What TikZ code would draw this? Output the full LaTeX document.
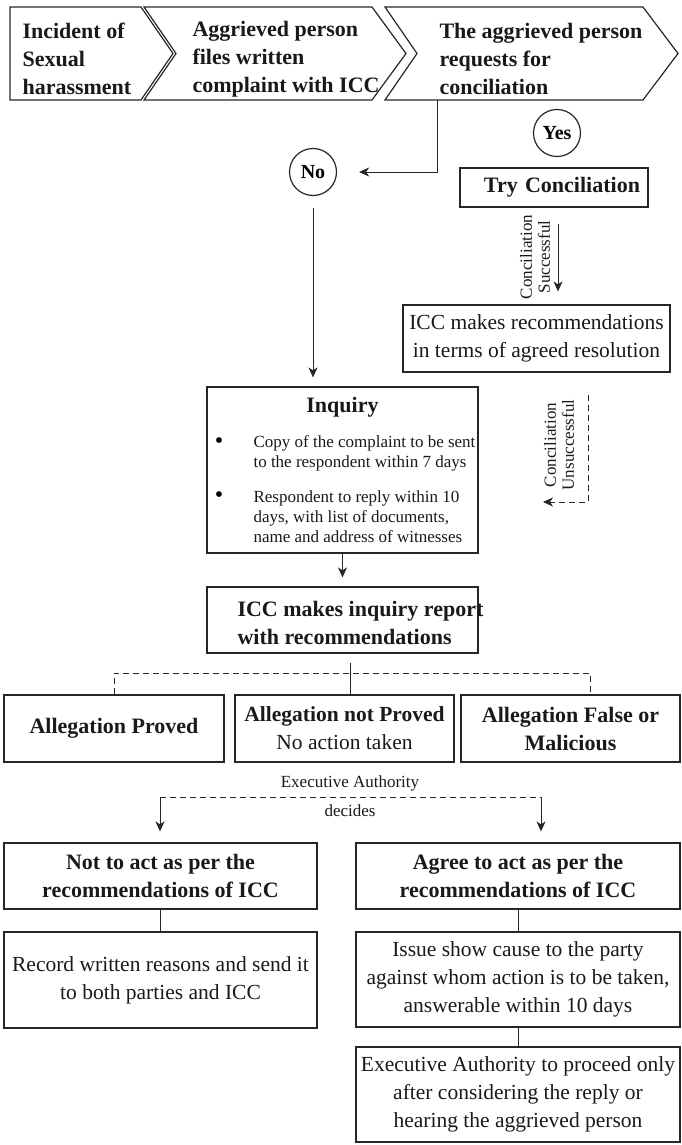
\documentclass[tikz,border=0pt]{standalone}
\usepackage{fontspec}
\setmainfont{Liberation Serif}
\usetikzlibrary{positioning, arrows.meta}

\begin{document}
\begin{tikzpicture}[x=1pt, y=-1pt,
  box/.style={draw=black!85, line width=1.2pt, rectangle, inner sep=0},
  chev/.style={draw=black!85, line width=1.2pt, line join=miter},
  ring/.style={draw=black!85, line width=1.2pt, circle, minimum size=47, inner sep=0, font=\fontsize{20}{24}\selectfont\bfseries},
  head/.style={font=\fontsize{22}{28}\selectfont\bfseries, text=black!90},
  body/.style={font=\fontsize{21.5}{28}\selectfont, text=black!90},
  small/.style={font=\fontsize{17}{20}\selectfont, text=black!90},
  tag/.style={font=\fontsize{17}{18}\selectfont, text=black!90},
  link/.style={draw=black!85, line width=0.9pt},
  arr/.style={link, -{Stealth[length=10pt,width=9pt,inset=3pt]}},
  dashlink/.style={link, dash pattern=on 6pt off 4pt},
  ]

  \useasboundingbox (0,0) rectangle (681,1145);

  % Top row of chevrons
  \draw[chev] (10,7) -- (141,7) -- (173,53.5) -- (141,100) -- (10,100) -- cycle;
  \draw[chev] (144,7) -- (372,7) -- (406,53.5) -- (372,100) -- (144,100) -- (176,53.5) -- cycle;
  \draw[chev] (385,7) -- (643,7) -- (678,53.5) -- (643,100) -- (385,100) -- (417,53.5) -- cycle;
  \node[head, align=left, anchor=west] (incident) at (19,59) {Incident of\\Sexual\\harassment};
  \node[head, align=left, anchor=west] (files) at (189,59) {Aggrieved person\\files written\\complaint with ICC};
  \node[head, align=left, anchor=west] (request) at (436,59) {The aggrieved person\\requests for\\conciliation};
  \coordinate (reqfoot) at (437,100);

  % Decision
  \node[ring] (no) at (313,172) {No};
  \node[ring] (yes) at (557,133) {Yes};
  \draw[arr, shorten >=22pt] (reqfoot) |- (no);

  % Conciliation branch
  \node[box, head, minimum width=188, minimum height=39, text width=172, align=right] (try) at (554,187.5) {Try Conciliation};
  \node[box, body, minimum width=267, minimum height=67, align=center] (rec) at (536.5,338.5) {ICC makes recommendations\\in terms of agreed resolution};
  \draw[arr, shorten <=16pt, shorten >=13pt] ([xshift=4pt]try.south) -- ([xshift=4pt]try.south |- rec.north);
  \node[tag, rotate=90, align=center] (succ) at (535,257) {Conciliation\\Successful};

  \coordinate (unsA) at (588,395);
  \coordinate (unsB) at (543,502);
  \draw[dashlink, -{Stealth[length=10pt,width=9pt,inset=3pt]}] (unsA) |- (unsB);
  \node[tag, rotate=90, align=center] (unsucc) at (559,445) {Conciliation\\Unsuccessful};

  % Inquiry
  \node[box, minimum width=271, minimum height=166] (inq) at (342.5,470) {};
  \node[head] (inqtitle) at (342.5,407) {Inquiry};
  \node[font=\fontsize{24}{20}\selectfont] (dot1) at (219,443) {\textbullet};
  \node[small, align=left, anchor=west] (item1) at (250,453) {Copy of the complaint to be sent\\to the respondent within 7 days};
  \node[font=\fontsize{24}{20}\selectfont] (dot2) at (219,497) {\textbullet};
  \node[small, align=left, anchor=west] (item2) at (250,517) {Respondent to reply within 10\\days, with list of documents,\\name and address of witnesses};
  \draw[arr, shorten <=12pt, shorten >=9pt] (no) -- (no |- inq.north);

  \node[box, minimum width=271, minimum height=66] (rep) at (342.5,620) {};
  \node[head, align=left, anchor=west] (reptext) at (234,623) {ICC makes inquiry report\\with recommendations};
  \draw[arr, shorten >=9pt] (inq.south) -- (rep.north);

  % Findings
  \node[box, head, minimum width=220, minimum height=67, align=center] (proved) at (114,728.5) {Allegation Proved};
  \node[box, body, minimum width=219, minimum height=67, align=center] (notproved) at (344.5,728.5) {\textbf{Allegation not Proved}\\No action taken};
  \node[box, head, minimum width=219, minimum height=67, align=center] (false) at (570.5,728.5) {Allegation False or\\Malicious};

  \coordinate (fork) at (350,673);
  \draw[link, shorten <=9pt] (rep.south -| fork) -- (fork |- notproved.north);
  \draw[dashlink] (proved.north) |- (fork) -| ([xshift=19.5pt]false.north);

  % Executive Authority
  \node[tag] (exauth) at (350,783) {Executive Authority};
  \node[tag] (decides) at (350,811) {decides};
  \coordinate (eaL) at (160,797);
  \coordinate (eaR) at (541,797);

  \node[box, head, minimum width=313, minimum height=66, align=center] (notact) at (160.5,876) {Not to act as per the\\recommendations of ICC};
  \node[box, head, minimum width=324, minimum height=66, align=center] (agree) at (518,876) {Agree to act as per the\\recommendations of ICC};
  \node[box, body, minimum width=313, minimum height=96, align=center] (record) at (160.5,980) {Record written reasons and send it\\to both parties and ICC};
  \node[box, body, minimum width=324, minimum height=95, align=center] (issue) at (518,979.5) {Issue show cause to the party\\against whom action is to be taken,\\answerable within 10 days};
  \node[box, body, minimum width=324, minimum height=95, align=center] (proceed) at (518,1094.5) {Executive Authority to proceed only\\after considering the reply or\\hearing the aggrieved person};

  \draw[dashlink] (eaL) -- (eaR);
  \draw[arr, shorten >=11pt] (eaL) -- (eaL |- notact.north);
  \draw[arr, shorten >=11pt] (eaR) -- (eaR |- agree.north);

  \draw[link] (notact) -- (record);
  \draw[link] (agree) -- (issue);
  \draw[link] (issue) -- (proceed);

\end{tikzpicture}
\end{document}
